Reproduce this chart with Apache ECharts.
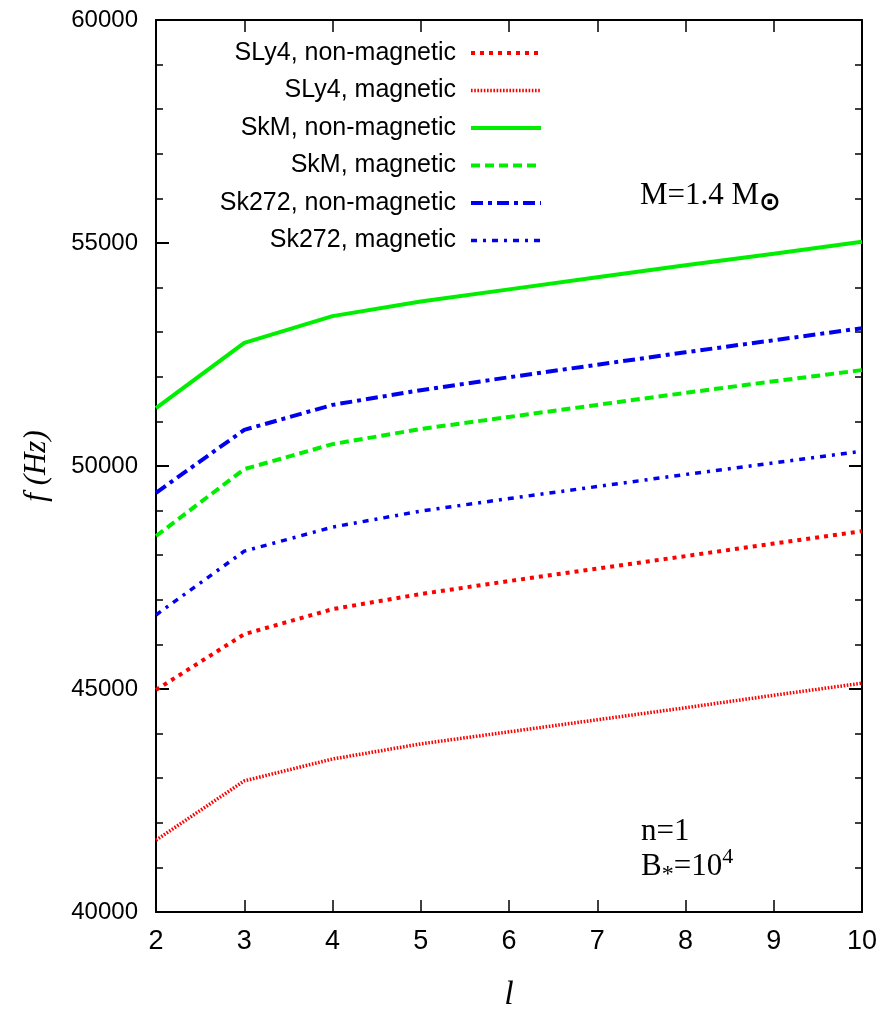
<!DOCTYPE html>
<html>
<head>
<meta charset="utf-8">
<script src="https://cdn.jsdelivr.net/npm/echarts@6/dist/echarts.min.js"></script>
<style>
  html, body { margin: 0; padding: 0; background: #fff; }
  #chart { width: 886px; height: 1028px; }
</style>
</head>
<body>
<div id="chart"></div>
<script>
// Multipole order l
const ells = [2, 3, 4, 5, 6, 7, 8, 9, 10];

// Mode frequencies f (Hz), M = 1.4 Msun, n = 1, B* = 1e4
const sly4NonMag = [44980, 46230, 46790, 47130, 47420, 47700, 47980, 48260, 48540];
const sly4Mag    = [41610, 42940, 43430, 43770, 44040, 44310, 44580, 44860, 45130];
const skmNonMag  = [51300, 52760, 53360, 53690, 53960, 54230, 54500, 54760, 55030];
const skmMag     = [48430, 49930, 50490, 50830, 51100, 51370, 51640, 51900, 52150];
const sk272NonMag = [49400, 50810, 51370, 51700, 51990, 52270, 52550, 52820, 53090];
const sk272Mag    = [46660, 48090, 48630, 48990, 49270, 49540, 49810, 50070, 50330];

const seriesNames = [
  'SLy4, non-magnetic',
  'SLy4, magnetic',
  'SkM, non-magnetic',
  'SkM, magnetic',
  'Sk272, non-magnetic',
  'Sk272, magnetic'
];
const seriesValues = [sly4NonMag, sly4Mag, skmNonMag, skmMag, sk272NonMag, sk272Mag];

const yTicks = [40000, 45000, 50000, 55000, 60000];

const RED = '#ff0000', GREEN = '#00ee00', BLUE = '#0000ee';
const styles = [
  { color: RED,   width: 4,   type: [4, 5] },
  { color: RED,   width: 3.5, type: [1.6, 1.6] },
  { color: GREEN, width: 4,   type: 'solid' },
  { color: GREEN, width: 4,   type: [9, 5] },
  { color: BLUE,  width: 4,   type: [12, 5, 4, 5] },
  { color: BLUE,  width: 3.5, type: [6, 6, 3, 6] }
];

const SANS = '"Liberation Sans", Arial, sans-serif';
const SERIF = '"Liberation Serif", "Times New Roman", serif';

const series = seriesNames.map((name, i) => ({
  name: name,
  type: 'line',
  xAxisIndex: 0,
  yAxisIndex: 0,
  data: ells.map((l, k) => [l, seriesValues[i][k]]),
  symbol: 'none',
  showSymbol: false,
  smooth: false,
  silent: true,
  lineStyle: { color: styles[i].color, width: styles[i].width, type: styles[i].type, cap: 'butt' },
  itemStyle: { color: styles[i].color, opacity: 0 }
}));

const chart = echarts.init(document.getElementById('chart'), null, { renderer: 'canvas' });

const axisCommon = {
  axisLine: { show: true, onZero: false, lineStyle: { color: '#000', width: 2 } },
  splitLine: { show: false }
};

chart.setOption({
  animation: false,
  backgroundColor: '#fff',
  grid: { left: 156, right: 24, top: 20, bottom: 116, containLabel: false },
  legend: {
    orient: 'vertical',
    align: 'right',
    right: 343,
    top: 38,
    padding: 0,
    itemWidth: 70,
    itemHeight: 14,
    itemGap: 7.5,
    selectedMode: false,
    data: seriesNames,
    itemStyle: { opacity: 0 },
    lineStyle: { width: 'inherit', type: 'inherit' },
    textStyle: { fontFamily: SANS, fontSize: 25, color: '#000', lineHeight: 30, padding: [0, 10, 0, 0] }
  },
  xAxis: [
    Object.assign({}, axisCommon, {
      type: 'value', position: 'bottom', min: 2, max: 10, interval: 1,
      name: 'l', nameLocation: 'middle', nameGap: 66,
      nameTextStyle: { fontFamily: SERIF, fontStyle: 'italic', fontSize: 34, color: '#000' },
      axisTick: { show: true, inside: true, length: 12, lineStyle: { color: '#000', width: 1.5 } },
      axisLabel: { margin: 16, fontFamily: SANS, fontSize: 27, color: '#000' }
    }),
    Object.assign({}, axisCommon, {
      type: 'value', position: 'top', min: 2, max: 10, interval: 1,
      axisTick: { show: true, inside: true, length: 12, lineStyle: { color: '#000', width: 1.5 } },
      axisLabel: { show: false }
    })
  ],
  yAxis: [
    Object.assign({}, axisCommon, {
      type: 'value', position: 'left', min: yTicks[0], max: yTicks[yTicks.length - 1], interval: 5000,
      name: 'f (Hz)', nameLocation: 'middle', nameGap: 104, nameRotate: 90,
      nameTextStyle: { fontFamily: SERIF, fontStyle: 'italic', fontSize: 31, color: '#000' },
      axisTick: { show: true, inside: true, length: 13, lineStyle: { color: '#000', width: 2 } },
      minorTick: { show: true, splitNumber: 5, length: 7, lineStyle: { color: '#000', width: 1.5 } },
      axisLabel: { margin: 18, fontFamily: SANS, fontSize: 24, color: '#000', formatter: v => String(v) }
    }),
    Object.assign({}, axisCommon, {
      type: 'value', position: 'right', min: yTicks[0], max: yTicks[yTicks.length - 1], interval: 5000,
      axisTick: { show: true, inside: true, length: 13, lineStyle: { color: '#000', width: 2 } },
      minorTick: { show: true, splitNumber: 5, length: 7, lineStyle: { color: '#000', width: 1.5 } },
      axisLabel: { show: false }
    })
  ],
  graphic: [
    {
      type: 'text', left: 640, top: 180, silent: true,
      style: {
        text: 'M=1.4 M{sub|⊙}',
        fontFamily: SERIF, fontSize: 31, fill: '#000',
        rich: { sub: { fontFamily: '"DejaVu Sans", sans-serif', fontSize: 26, fontWeight: 'bold', padding: [16, 0, 0, 0] } }
      }
    },
    {
      type: 'text', left: 641, top: 816, silent: true,
      style: { text: 'n=1', fontFamily: SERIF, fontSize: 31, fill: '#000' }
    },
    {
      type: 'text', left: 641, top: 846, silent: true,
      style: {
        text: 'B{sub|*}=10{sup|4}',
        fontFamily: SERIF, fontSize: 31, fill: '#000',
        rich: {
          sub: { fontFamily: SERIF, fontSize: 24, padding: [16, 0, 0, 0] },
          sup: { fontFamily: SERIF, fontSize: 22, padding: [0, 0, 20, 0] }
        }
      }
    }
  ],
  series: series
});
</script>
</body>
</html>
